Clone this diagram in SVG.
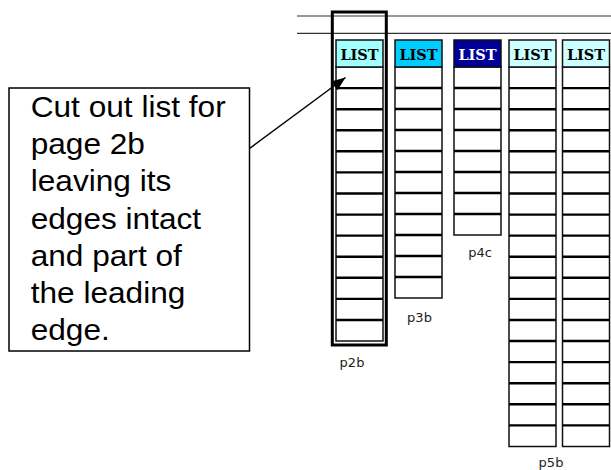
<svg xmlns="http://www.w3.org/2000/svg" width="611" height="470" viewBox="0 0 611 470">
<style>
.col{fill:#fff;stroke:#111;stroke-width:1.5}
.sep{fill:none;stroke:#000;stroke-width:2.4}
.hd{stroke:#111;stroke-width:1.5}
.ht{font-family:"DejaVu Serif",serif;font-weight:bold;font-size:14.5px;text-anchor:middle}
.lbl{font-family:"DejaVu Sans",sans-serif;font-size:13px;fill:#222;text-anchor:middle}
.big{font-family:"Liberation Sans",Arial,sans-serif;font-size:29px;fill:#000}
.rule{stroke:#333;stroke-width:1.2}
</style>
<defs>
<marker id="ah" markerUnits="userSpaceOnUse" markerWidth="15" markerHeight="12" refX="14" refY="5.5" orient="auto">
<path d="M0,0 L14,5.5 L0,11 z" fill="#000"/>
</marker>
</defs>
<rect width="611" height="470" fill="#fff"/>
<g id="rules">
<line class="rule" x1="297" y1="16" x2="611" y2="16"/>
<line class="rule" x1="297" y1="33.3" x2="611" y2="33.3"/>
</g>
<g id="p2b">
<rect class="col" x="336" y="67" width="47" height="274"/>
<rect class="hd" x="336" y="40" width="47" height="27" fill="#a2ffff"/>
<text class="ht" x="359.5" y="60" fill="#000">LIST</text>
<path class="sep" d="M336 88.1H383M336 109.2H383M336 130.2H383M336 151.3H383M336 172.4H383M336 193.5H383M336 214.6H383M336 235.6H383M336 256.7H383M336 277.8H383M336 298.9H383M336 320H383"/>
<text class="lbl" x="352" y="367">p2b</text>
<rect x="332.3" y="12" width="54" height="333" fill="none" stroke="#000" stroke-width="3"/>
</g>
<g id="p3b">
<rect class="col" x="395" y="67" width="47" height="231"/>
<rect class="hd" x="395" y="40" width="47" height="27" fill="#00ccff"/>
<text class="ht" x="418.5" y="60" fill="#000">LIST</text>
<path class="sep" d="M395 88H442M395 109H442M395 130H442M395 151H442M395 172H442M395 193H442M395 214H442M395 235H442M395 256H442M395 277H442"/>
<text class="lbl" x="419.5" y="322">p3b</text>
</g>
<g id="p4c">
<rect class="col" x="454" y="67" width="47" height="168"/>
<rect class="hd" x="454" y="40" width="47" height="27" fill="#000099"/>
<text class="ht" x="477.5" y="60" fill="#fff">LIST</text>
<path class="sep" d="M454 88H501M454 109H501M454 130H501M454 151H501M454 172H501M454 193H501M454 214H501"/>
<text class="lbl" x="480" y="257">p4c</text>
</g>
<g id="p5b">
<rect class="col" x="509" y="67" width="47" height="379.5"/>
<rect class="hd" x="509" y="40" width="47" height="27" fill="#ccffff"/>
<text class="ht" x="532.5" y="60" fill="#000">LIST</text>
<rect class="col" x="562.5" y="67" width="47" height="379.5"/>
<rect class="hd" x="562.5" y="40" width="47" height="27" fill="#ccffff"/>
<text class="ht" x="586" y="60" fill="#000">LIST</text>
<path class="sep" d="M509 88.1H556M509 109.2H556M509 130.2H556M509 151.3H556M509 172.4H556M509 193.5H556M509 214.6H556M509 235.6H556M509 256.7H556M509 277.8H556M509 298.9H556M509 320H556M509 341H556M509 362.1H556M509 383.2H556M509 404.3H556M509 425.4H556"/>
<path class="sep" d="M562.5 88.1H609.5M562.5 109.2H609.5M562.5 130.2H609.5M562.5 151.3H609.5M562.5 172.4H609.5M562.5 193.5H609.5M562.5 214.6H609.5M562.5 235.6H609.5M562.5 256.7H609.5M562.5 277.8H609.5M562.5 298.9H609.5M562.5 320H609.5M562.5 341H609.5M562.5 362.1H609.5M562.5 383.2H609.5M562.5 404.3H609.5M562.5 425.4H609.5"/>
<text class="lbl" x="551" y="467">p5b</text>
</g>
<g id="note">
<rect x="9" y="88" width="240.5" height="263" fill="#fff" stroke="#000" stroke-width="1.5"/>
<g transform="translate(30.7,0) scale(1.09,1)">
<text class="big" x="0" y="117.3">Cut out list for</text>
<text class="big" x="0" y="154.4">page 2b</text>
<text class="big" x="0" y="191.5">leaving its</text>
<text class="big" x="0" y="228.6">edges intact</text>
<text class="big" x="0" y="265.7">and part of</text>
<text class="big" x="0" y="302.8">the leading</text>
<text class="big" x="0" y="340">edge.</text>
</g>
</g>
<g id="connectors">
<line x1="249.5" y1="148.5" x2="345.5" y2="77.5" stroke="#000" stroke-width="1.5" marker-end="url(#ah)"/>
</g>
</svg>
